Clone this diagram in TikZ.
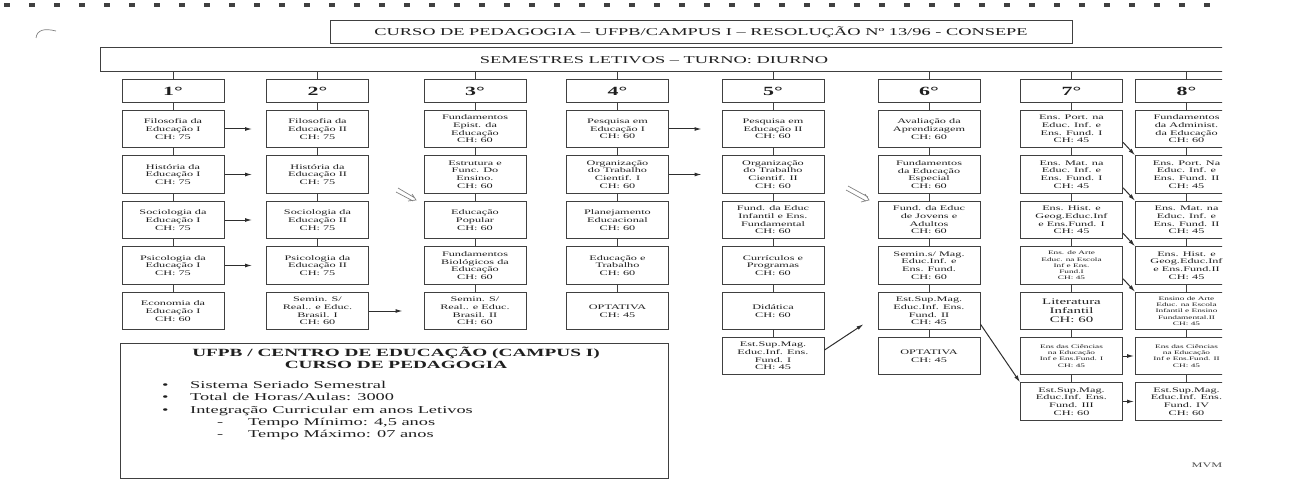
\documentclass[tikz,border=0pt]{standalone}
\usepackage{fontspec}
\setmainfont{Liberation Serif}[FakeStretch=1.75]
\usetikzlibrary{arrows.meta, positioning}

\begin{document}
\begin{tikzpicture}[
    x=1pt, y=-1pt,
    ink/.style={draw=black!75, line width=1pt},
    semhead/.style={ink, minimum width=102pt, minimum height=23pt, inner sep=0pt, text=black!88, font=\bfseries\fontsize{12.5}{12.5}\selectfont},
    disc/.style={ink, minimum width=102pt, minimum height=37.5pt, inner sep=1pt, align=center, text=black!88, font=\fontsize{7}{7.7}\selectfont},
    smalltxt/.style={font=\fontsize{5.3}{6.2}\selectfont},
    bigtxt/.style={font=\fontsize{8.5}{9}\selectfont},
    link/.style={draw=black!82, line width=1pt, -{Latex[length=7pt,width=4pt]}},
    penmark/.style={draw=black!50, line width=0.7pt}
]
    \useasboundingbox (0,0) rectangle (1298,492);

    % binder holes and pen marks of the scan
    \draw[black!75, line width=4pt, dash pattern=on 6pt off 19pt] (4,5) -- (1228,5);
    \draw[penmark] (36,38) .. controls (37,30) and (44,28) .. (56,31);
    \draw[penmark] (398,188) -- (415,198) (396,192) -- (413,201) (408,201) -- (416,200) -- (412,194);
    \draw[penmark] (848,186) -- (868,197) (846,190) -- (866,201) (861,202) -- (869,200) -- (865,194);

    \begin{scope}
    \clip (0,0) rectangle (1222,492);

    \node[ink, minimum width=742pt, minimum height=23pt, text=black!88, font=\fontsize{10.5}{10.5}\selectfont] (title) at (701,32) {CURSO DE PEDAGOGIA – UFPB/CAMPUS I – RESOLUÇÃO Nº 13/96 - CONSEPE};
    \node[ink, minimum width=1140pt, minimum height=24pt, text=black!88, font=\fontsize{10.5}{10.5}\selectfont] (band) at (670,60) {\hspace*{-32pt}SEMESTRES LETIVOS – TURNO: DIURNO};

    % semester headers
    \node[semhead] (h1) at (173,91.5) {1°};
    \node[semhead] (h2) at (317.5,91.5) {2°};
    \node[semhead] (h3) at (475,91.5) {3°};
    \node[semhead] (h4) at (617.5,91.5) {4°};
    \node[semhead] (h5) at (773,91.5) {5°};
    \node[semhead] (h6) at (929,91.5) {6°};
    \node[semhead] (h7) at (1071.5,91.5) {7°};
    \node[semhead] (h8) at (1186.5,91.5) {8°};

    % 1st semester
    \node[disc] (s11) at (173,129) {Filosofia da\\Educação I\\CH: 75};
    \node[disc] (s12) at (173,174.5) {História da\\Educação I\\CH: 75};
    \node[disc] (s13) at (173,220) {Sociologia da\\Educação I\\CH: 75};
    \node[disc] (s14) at (173,265.5) {Psicologia da\\Educação I\\CH: 75};
    \node[disc] (s15) at (173,311) {Economia da\\Educação I\\CH: 60};

    % 2nd semester
    \node[disc] (s21) at (317.5,129) {Filosofia da\\Educação II\\CH: 75};
    \node[disc] (s22) at (317.5,174.5) {História da\\Educação II\\CH: 75};
    \node[disc] (s23) at (317.5,220) {Sociologia da\\Educação II\\CH: 75};
    \node[disc] (s24) at (317.5,265.5) {Psicologia da\\Educação II\\CH: 75};
    \node[disc] (s25) at (317.5,311) {Semin. S/\\Real.. e Educ.\\Brasil. I\\CH: 60};

    % 3rd semester
    \node[disc] (s31) at (475,129) {Fundamentos\\Epist. da\\Educação\\CH: 60};
    \node[disc] (s32) at (475,174.5) {Estrutura e\\Func. Do\\Ensino.\\CH: 60};
    \node[disc] (s33) at (475,220) {Educação\\Popular\\CH: 60};
    \node[disc] (s34) at (475,265.5) {Fundamentos\\Biológicos da\\Educação\\CH: 60};
    \node[disc] (s35) at (475,311) {Semin. S/\\Real.. e Educ.\\Brasil. II\\CH: 60};

    % 4th semester
    \node[disc] (s41) at (617.5,129) {Pesquisa em\\Educação I\\CH: 60};
    \node[disc] (s42) at (617.5,174.5) {Organização\\do Trabalho\\Cientif. I\\CH: 60};
    \node[disc] (s43) at (617.5,220) {Planejamento\\Educacional\\CH: 60};
    \node[disc] (s44) at (617.5,265.5) {Educação e\\Trabalho\\CH: 60};
    \node[disc] (s45) at (617.5,311) {OPTATIVA\\CH: 45};

    % 5th semester
    \node[disc] (s51) at (773,129) {Pesquisa em\\Educação II\\CH: 60};
    \node[disc] (s52) at (773,174.5) {Organização\\do Trabalho\\Cientif. II\\CH: 60};
    \node[disc] (s53) at (773,220) {Fund. da Educ\\Infantil e Ens.\\Fundamental\\CH: 60};
    \node[disc] (s54) at (773,265.5) {Currículos e\\Programas\\CH: 60};
    \node[disc] (s55) at (773,311) {Didática\\CH: 60};
    \node[disc] (s56) at (773,356) {Est.Sup.Mag.\\Educ.Inf. Ens.\\Fund. I\\CH: 45};

    % 6th semester
    \node[disc] (s61) at (929,129) {Avaliação da\\Aprendizagem\\CH: 60};
    \node[disc] (s62) at (929,174.5) {Fundamentos\\da Educação\\Especial\\CH: 60};
    \node[disc] (s63) at (929,220) {Fund. da Educ\\de Jovens e\\Adultos\\CH: 60};
    \node[disc] (s64) at (929,265.5) {Semin.s/ Mag.\\Educ.Inf. e\\Ens. Fund.\\CH: 60};
    \node[disc] (s65) at (929,311) {Est.Sup.Mag.\\Educ.Inf. Ens.\\Fund. II\\CH: 45};
    \node[disc] (s66) at (929,356) {OPTATIVA\\CH: 45};

    % 7th semester
    \node[disc] (s71) at (1071.5,129) {Ens. Port. na\\Educ. Inf. e\\Ens. Fund. I\\CH: 45};
    \node[disc] (s72) at (1071.5,174.5) {Ens. Mat. na\\Educ. Inf. e\\Ens. Fund. I\\CH: 45};
    \node[disc] (s73) at (1071.5,220) {Ens. Hist. e\\Geog.Educ.Inf\\e Ens.Fund. I\\CH: 45};
    \node[disc, smalltxt] (s74) at (1071.5,265.5) {Ens. de Arte\\Educ. na Escola\\Inf e Ens.\\Fund.I\\CH: 45};
    \node[disc, bigtxt] (s75) at (1071.5,311) {Literatura\\Infantil\\CH: 60};
    \node[disc, smalltxt] (s76) at (1071.5,356) {Ens das Ciências\\na Educação\\Inf e Ens.Fund. I\\CH: 45};
    \node[disc] (s77) at (1071.5,401.5) {Est.Sup.Mag.\\Educ.Inf. Ens.\\Fund. III\\CH: 60};

    % 8th semester
    \node[disc] (s81) at (1186.5,129) {Fundamentos\\da Administ.\\da Educação\\CH: 60};
    \node[disc] (s82) at (1186.5,174.5) {Ens. Port. Na\\Educ. Inf. e\\Ens. Fund. II\\CH: 45};
    \node[disc] (s83) at (1186.5,220) {Ens. Mat. na\\Educ. Inf. e\\Ens. Fund. II\\CH: 45};
    \node[disc] (s84) at (1186.5,265.5) {Ens. Hist. e\\Geog.Educ.Inf\\e Ens.Fund.II\\CH: 45};
    \node[disc, smalltxt] (s85) at (1186.5,311) {Ensino de Arte\\Educ. na Escola\\Infantil e Ensino\\Fundamental.II\\CH: 45};
    \node[disc, smalltxt] (s86) at (1186.5,356) {Ens das Ciências\\na Educação\\Inf e Ens.Fund. II\\CH: 45};
    \node[disc] (s87) at (1186.5,401.5) {Est.Sup.Mag.\\Educ.Inf. Ens.\\Fund. IV\\CH: 60};

    % columns hanging from the band
    \draw[ink] (band.south -| h1) -- (h1) (h1) -- (s11) (s11) -- (s12) (s12) -- (s13) (s13) -- (s14) (s14) -- (s15);
    \draw[ink] (band.south -| h2) -- (h2) (h2) -- (s21) (s21) -- (s22) (s22) -- (s23) (s23) -- (s24);
    \draw[ink] (band.south -| h3) -- (h3) (h3) -- (s31) (s31) -- (s32) (s32) -- (s33) (s33) -- (s34) (s34) -- (s35);
    \draw[ink] (band.south -| h4) -- (h4) (h4) -- (s41) (s41) -- (s42) (s42) -- (s43) (s43) -- (s44) (s44) -- (s45);
    \draw[ink] (band.south -| h5) -- (h5) (h5) -- (s51) (s51) -- (s52) (s52) -- (s53) (s53) -- (s54) (s54) -- (s55) (s55) -- (s56);
    \draw[ink] (band.south -| h6) -- (h6) (h6) -- (s61) (s61) -- (s62) (s62) -- (s63) (s63) -- (s64) (s64) -- (s65) (s65) -- (s66);
    \draw[ink] (band.south -| h7) -- (h7) (h7) -- (s71) (s71) -- (s72) (s72) -- (s73) (s73) -- (s74) (s74) -- (s75) (s75) -- (s76) (s76) -- (s77);
    \draw[ink] (band.south -| h8) -- (h8) (h8) -- (s81) (s81) -- (s82) (s82) -- (s83) (s83) -- (s84) (s84) -- (s85) (s85) -- (s86) (s86) -- (s87);

    % prerequisites
    \draw[link, shorten >=14pt] (s11) -- (s21);
    \draw[link, shorten >=14pt] (s12) -- (s22);
    \draw[link, shorten >=14pt] (s13) -- (s23);
    \draw[link, shorten >=14pt] (s14) -- (s24);
    \draw[link, shorten >=21pt] (s25) -- (s35);
    \draw[link, shorten >=20pt] (s41) -- (s51);
    \draw[link, shorten >=20pt] (s42) -- (s52);
    \draw[link] ([yshift=6pt]s56.east) -- ([xshift=-14pt,yshift=6pt]s65.south west);
    \draw[link] ([yshift=6pt]s65.south east) -- (s77.north west);
    \draw[link] ([yshift=6pt]s71.south east) -- (s82.north west);
    \draw[link] ([yshift=6pt]s72.south east) -- (s83.north west);
    \draw[link] ([yshift=6pt]s73.south east) -- (s84.north west);
    \draw[link] ([yshift=6pt]s74.south east) -- (s85.north west);
    \draw[link, shorten >=1pt] (s76) -- (s86);
    \draw[link, shorten >=1pt] (s77) -- (s87);
    \end{scope}

    % course summary
    \node[ink, minimum width=548pt, minimum height=135pt] (info) at (394,410.5) {};
    \node[text=black!88, align=center, font=\bfseries\fontsize{11}{12}\selectfont] (infotitle) at (396,358) {UFPB / CENTRO DE EDUCAÇÃO (CAMPUS I)\\CURSO DE PEDAGOGIA};
    \node[anchor=north west, inner sep=0pt, align=left, text=black!88, font=\fontsize{10.5}{12.3}\selectfont] (infolist) at (162,381) {%
        \makebox[28pt][l]{\textbullet}Sistema Seriado Semestral\\
        \makebox[28pt][l]{\textbullet}Total de Horas/Aulas: 3000\\
        \makebox[28pt][l]{\textbullet}Integração Curricular em anos Letivos\\
        \hspace*{55pt}\makebox[31pt][l]{-}Tempo Mínimo: 4,5 anos\\
        \hspace*{55pt}\makebox[31pt][l]{-}Tempo Máximo: 07 anos};

    \node[text=black!70, font=\fontsize{7}{7}\selectfont] (mvm) at (1207,465) {MVM};
\end{tikzpicture}
\end{document}
